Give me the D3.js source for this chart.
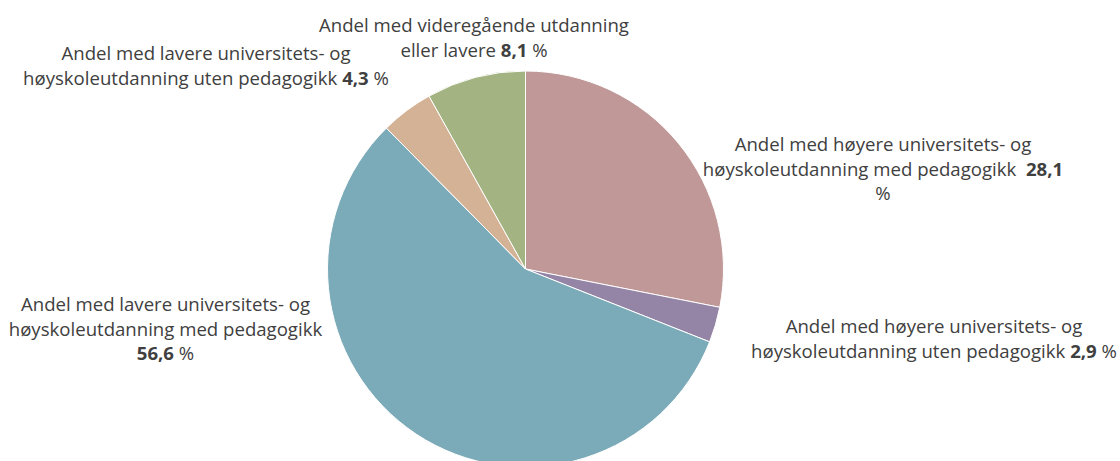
<!DOCTYPE html>
<html>
<head>
<meta charset="utf-8">
<script src="https://cdn.jsdelivr.net/npm/d3@7"></script>
<style>
  body { margin: 0; background: #fff; }
  text { font-family: "Open Sans", "Liberation Sans", sans-serif; fill: #404040; }
</style>
</head>
<body>
<div id="chart"></div>
<script>
// Data (andeler i prosent)
var categories = [
  "Andel med høyere universitets- og høyskoleutdanning med pedagogikk",
  "Andel med høyere universitets- og høyskoleutdanning uten pedagogikk",
  "Andel med lavere universitets- og høyskoleutdanning med pedagogikk",
  "Andel med lavere universitets- og høyskoleutdanning uten pedagogikk",
  "Andel med videregående utdanning eller lavere"
];
var values = [28.1, 2.9, 56.6, 4.3, 8.1];
var colors = ["#BF9897", "#9484A6", "#7BAAB8", "#D3B296", "#A3B482"];

// Oppsett
var width = 1120, height = 461;
var cx = 525.5, cy = 269, radius = 198;
var fontSize = 18.6, lineH = 24.5;

// Plassering av etiketter (midtpunkt x, første grunnlinje y, ordbrudd)
var labelLayout = [
  { x: 883, y: 151, breakAfter: "og", valueNewLine: false, pctNewLine: true, gap: "  " },
  { x: 934, y: 333, breakAfter: "og", valueNewLine: false, pctNewLine: false, gap: " " },
  { x: 165.5, y: 311, breakAfter: "og", valueNewLine: true, pctNewLine: false, gap: " " },
  { x: 206, y: 60, breakAfter: "og", valueNewLine: false, pctNewLine: false, gap: " " },
  { x: 474, y: 32, breakAfter: "utdanning", valueNewLine: false, pctNewLine: false, gap: " " }
];

var svg = d3.select("#chart")
  .append("svg")
  .attr("width", width)
  .attr("height", height);

var pie = d3.pie().sort(null).value(function(d) { return d; });
var arc = d3.arc().innerRadius(0).outerRadius(radius);

var g = svg.append("g").attr("transform", "translate(" + cx + "," + cy + ")");

g.selectAll("path")
  .data(pie(values))
  .enter()
  .append("path")
  .attr("d", arc)
  .style("fill", function(d, i) { return colors[i]; })
  .style("stroke", "#fff")
  .style("stroke-width", 1);

var fmt = function(v) { return d3.format(".1f")(v).replace(".", ","); };

// Bygg linjer: hver linje er en liste med [tekst, fet]
function buildLines(i) {
  var lay = labelLayout[i];
  var words = categories[i].split(" ");
  var k = words.indexOf(lay.breakAfter) + 1;
  var lines = [
    [[words.slice(0, k).join(" "), false]],
    [[words.slice(k).join(" "), false]]
  ];
  var val = [fmt(values[i]), true];
  if (lay.valueNewLine) {
    lines.push([val, [" %", false]]);
  } else if (lay.pctNewLine) {
    lines[1].push([lay.gap, false], val);
    lines.push([["%", false]]);
  } else {
    lines[1].push([lay.gap, false], val, [" %", false]);
  }
  return lines;
}

labelLayout.forEach(function(lay, i) {
  var t = svg.append("text")
    .attr("text-anchor", "middle")
    .style("font-size", fontSize + "px")
    .attr("xml:space", "preserve");
  buildLines(i).forEach(function(line, j) {
    var ts = t.append("tspan").attr("x", lay.x).attr("y", lay.y + j * lineH);
    line.forEach(function(seg) {
      ts.append("tspan")
        .style("font-weight", seg[1] ? "bold" : "normal")
        .text(seg[0]);
    });
  });
});
</script>
</body>
</html>
